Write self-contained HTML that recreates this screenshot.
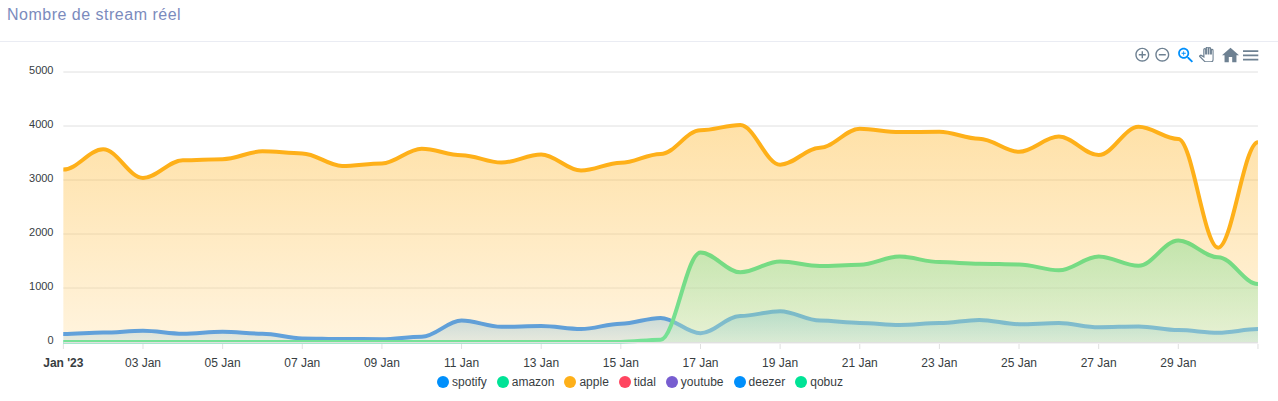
<!DOCTYPE html>
<html><head><meta charset="utf-8"><title>Nombre de stream réel</title>
<style>
html,body{margin:0;padding:0;background:#fff;}
body{width:1278px;height:401px;overflow:hidden;position:relative;font-family:"Liberation Sans",Arial,sans-serif;}
.title{position:absolute;left:7px;top:5px;font-size:16px;line-height:20px;color:#7b8bbd;white-space:nowrap;letter-spacing:0.5px;}
.hr{position:absolute;left:0;top:41px;width:1278px;height:1px;background:#eaecf3;}
.chart{position:absolute;left:0;top:0;}
.yl{font-size:11px;fill:#373d3f;font-family:"Liberation Sans",Arial,sans-serif;}
.xl{font-size:12px;fill:#373d3f;font-family:"Liberation Sans",Arial,sans-serif;}
.legend{position:absolute;left:1px;top:374px;width:1278px;text-align:center;font-size:12px;line-height:16px;color:#373d3f;white-space:nowrap;}
.li{display:inline-block;margin:0 5px;}
.mk{display:inline-block;width:12px;height:12px;border-radius:6px;vertical-align:-2px;margin-right:3px;}
.tb{position:absolute;top:45px;}
</style></head><body>
<div class="title">Nombre de stream réel</div>
<div class="hr"></div>
<svg class="chart" width="1278" height="401" viewBox="0 0 1278 401">
<defs><linearGradient id="g0" x1="0" y1="0" x2="0" y2="1"><stop offset="0" stop-color="#008FFB" stop-opacity="0.38"/><stop offset="1" stop-color="#9ed4fd" stop-opacity="0.38"/></linearGradient><linearGradient id="g1" x1="0" y1="0" x2="0" y2="1"><stop offset="0" stop-color="#00E396" stop-opacity="0.38"/><stop offset="1" stop-color="#9ef4d7" stop-opacity="0.38"/></linearGradient><linearGradient id="g2" x1="0" y1="0" x2="0" y2="1"><stop offset="0" stop-color="#FEB019" stop-opacity="0.38"/><stop offset="1" stop-color="#ffe1a8" stop-opacity="0.38"/></linearGradient><clipPath id="panclip"><rect x="0" y="0" width="24" height="24"/></clipPath><clipPath id="clip"><rect x="61.35" y="60" width="1198.6" height="284"/></clipPath></defs>
<g><line x1="63.35" x2="1257.95" y1="288" y2="288" stroke="#e0e0e0" stroke-width="1"/><line x1="63.35" x2="1257.95" y1="234" y2="234" stroke="#e0e0e0" stroke-width="1"/><line x1="63.35" x2="1257.95" y1="180" y2="180" stroke="#e0e0e0" stroke-width="1"/><line x1="63.35" x2="1257.95" y1="126" y2="126" stroke="#e0e0e0" stroke-width="1"/><line x1="63.35" x2="1257.95" y1="72" y2="72" stroke="#e0e0e0" stroke-width="1"/></g>
<g clip-path="url(#clip)"><path d="M63.35 334C77.29 334 89.23 332.6 103.17 332.6C117.11 332.6 129.05 330.7 142.99 330.7C156.93 330.7 168.87 333.7 182.81 333.7C196.75 333.7 208.69 331.8 222.63 331.8C236.57 331.8 248.51 333.7 262.45 333.7C276.39 333.7 288.33 338.4 302.27 338.4C316.21 338.4 328.15 339 342.09 339C356.03 339 367.97 339.2 381.91 339.2C395.85 339.2 407.79 336.7 421.73 336.7C435.67 336.7 447.61 320.5 461.55 320.5C475.49 320.5 487.43 326.8 501.37 326.8C515.31 326.8 527.25 326 541.19 326C555.13 326 567.07 329 581.01 329C594.95 329 606.89 323.7 620.83 323.7C634.77 323.7 646.71 317.9 660.65 317.9C674.59 317.9 686.53 333.2 700.47 333.2C714.41 333.2 726.35 316 740.29 316C754.23 316 766.17 311.3 780.11 311.3C794.05 311.3 805.99 320.6 819.93 320.6C833.87 320.6 845.81 322.9 859.75 322.9C873.69 322.9 885.63 324.9 899.57 324.9C913.51 324.9 925.45 323.1 939.39 323.1C953.33 323.1 965.27 319.9 979.21 319.9C993.15 319.9 1005.09 324.2 1019.03 324.2C1032.97 324.2 1044.91 323.1 1058.85 323.1C1072.79 323.1 1084.73 327.2 1098.67 327.2C1112.61 327.2 1124.55 326.4 1138.49 326.4C1152.43 326.4 1164.37 330.1 1178.31 330.1C1192.25 330.1 1204.19 332.7 1218.13 332.7C1232.07 332.7 1244.01 329.1 1257.95 329.1L1257.95 342L63.35 342Z" fill="url(#g0)"/><path d="M63.35 334C77.29 334 89.23 332.6 103.17 332.6C117.11 332.6 129.05 330.7 142.99 330.7C156.93 330.7 168.87 333.7 182.81 333.7C196.75 333.7 208.69 331.8 222.63 331.8C236.57 331.8 248.51 333.7 262.45 333.7C276.39 333.7 288.33 338.4 302.27 338.4C316.21 338.4 328.15 339 342.09 339C356.03 339 367.97 339.2 381.91 339.2C395.85 339.2 407.79 336.7 421.73 336.7C435.67 336.7 447.61 320.5 461.55 320.5C475.49 320.5 487.43 326.8 501.37 326.8C515.31 326.8 527.25 326 541.19 326C555.13 326 567.07 329 581.01 329C594.95 329 606.89 323.7 620.83 323.7C634.77 323.7 646.71 317.9 660.65 317.9C674.59 317.9 686.53 333.2 700.47 333.2C714.41 333.2 726.35 316 740.29 316C754.23 316 766.17 311.3 780.11 311.3C794.05 311.3 805.99 320.6 819.93 320.6C833.87 320.6 845.81 322.9 859.75 322.9C873.69 322.9 885.63 324.9 899.57 324.9C913.51 324.9 925.45 323.1 939.39 323.1C953.33 323.1 965.27 319.9 979.21 319.9C993.15 319.9 1005.09 324.2 1019.03 324.2C1032.97 324.2 1044.91 323.1 1058.85 323.1C1072.79 323.1 1084.73 327.2 1098.67 327.2C1112.61 327.2 1124.55 326.4 1138.49 326.4C1152.43 326.4 1164.37 330.1 1178.31 330.1C1192.25 330.1 1204.19 332.7 1218.13 332.7C1232.07 332.7 1244.01 329.1 1257.95 329.1" fill="none" stroke="#007AFC" stroke-width="4"/><path d="M63.35 342C77.29 342 89.23 342 103.17 342C117.11 342 129.05 342 142.99 342C156.93 342 168.87 342 182.81 342C196.75 342 208.69 342 222.63 342C236.57 342 248.51 342 262.45 342C276.39 342 288.33 342 302.27 342C316.21 342 328.15 342 342.09 342C356.03 342 367.97 342 381.91 342C395.85 342 407.79 342 421.73 342C435.67 342 447.61 342 461.55 342C475.49 342 487.43 342 501.37 342C515.31 342 527.25 342 541.19 342C555.13 342 567.07 342 581.01 342C594.95 342 606.89 342 620.83 342C634.77 342 646.71 339.7 660.65 339.7C674.59 339.7 686.53 252.4 700.47 252.4C714.41 252.4 726.35 272.3 740.29 272.3C754.23 272.3 766.17 261.6 780.11 261.6C794.05 261.6 805.99 266 819.93 266C833.87 266 845.81 264.8 859.75 264.8C873.69 264.8 885.63 256.6 899.57 256.6C913.51 256.6 925.45 262.1 939.39 262.1C953.33 262.1 965.27 263.7 979.21 263.7C993.15 263.7 1005.09 264.5 1019.03 264.5C1032.97 264.5 1044.91 270.3 1058.85 270.3C1072.79 270.3 1084.73 256.5 1098.67 256.5C1112.61 256.5 1124.55 265.8 1138.49 265.8C1152.43 265.8 1164.37 240.5 1178.31 240.5C1192.25 240.5 1204.19 257.2 1218.13 257.2C1232.07 257.2 1244.01 284.1 1257.95 284.1L1257.95 342L63.35 342Z" fill="url(#g1)"/><path d="M63.35 342C77.29 342 89.23 342 103.17 342C117.11 342 129.05 342 142.99 342C156.93 342 168.87 342 182.81 342C196.75 342 208.69 342 222.63 342C236.57 342 248.51 342 262.45 342C276.39 342 288.33 342 302.27 342C316.21 342 328.15 342 342.09 342C356.03 342 367.97 342 381.91 342C395.85 342 407.79 342 421.73 342C435.67 342 447.61 342 461.55 342C475.49 342 487.43 342 501.37 342C515.31 342 527.25 342 541.19 342C555.13 342 567.07 342 581.01 342C594.95 342 606.89 342 620.83 342C634.77 342 646.71 339.7 660.65 339.7C674.59 339.7 686.53 252.4 700.47 252.4C714.41 252.4 726.35 272.3 740.29 272.3C754.23 272.3 766.17 261.6 780.11 261.6C794.05 261.6 805.99 266 819.93 266C833.87 266 845.81 264.8 859.75 264.8C873.69 264.8 885.63 256.6 899.57 256.6C913.51 256.6 925.45 262.1 939.39 262.1C953.33 262.1 965.27 263.7 979.21 263.7C993.15 263.7 1005.09 264.5 1019.03 264.5C1032.97 264.5 1044.91 270.3 1058.85 270.3C1072.79 270.3 1084.73 256.5 1098.67 256.5C1112.61 256.5 1124.55 265.8 1138.49 265.8C1152.43 265.8 1164.37 240.5 1178.31 240.5C1192.25 240.5 1204.19 257.2 1218.13 257.2C1232.07 257.2 1244.01 284.1 1257.95 284.1" fill="none" stroke="#22E28C" stroke-width="4"/><path d="M63.35 169.6C77.29 169.6 89.23 149.3 103.17 149.3C117.11 149.3 129.05 177.9 142.99 177.9C156.93 177.9 168.87 160.2 182.81 160.2C196.75 160.2 208.69 159.2 222.63 159.2C236.57 159.2 248.51 151.3 262.45 151.3C276.39 151.3 288.33 153.4 302.27 153.4C316.21 153.4 328.15 165.9 342.09 165.9C356.03 165.9 367.97 163.4 381.91 163.4C395.85 163.4 407.79 148.7 421.73 148.7C435.67 148.7 447.61 155.2 461.55 155.2C475.49 155.2 487.43 162.6 501.37 162.6C515.31 162.6 527.25 154.5 541.19 154.5C555.13 154.5 567.07 170.6 581.01 170.6C594.95 170.6 606.89 162.8 620.83 162.8C634.77 162.8 646.71 154 660.65 154C674.59 154 686.53 130.2 700.47 130.2C714.41 130.2 726.35 125.1 740.29 125.1C754.23 125.1 766.17 164.7 780.11 164.7C794.05 164.7 805.99 147.8 819.93 147.8C833.87 147.8 845.81 128.7 859.75 128.7C873.69 128.7 885.63 132.1 899.57 132.1C913.51 132.1 925.45 131.8 939.39 131.8C953.33 131.8 965.27 138.7 979.21 138.7C993.15 138.7 1005.09 151.8 1019.03 151.8C1032.97 151.8 1044.91 136.6 1058.85 136.6C1072.79 136.6 1084.73 155.1 1098.67 155.1C1112.61 155.1 1124.55 126.8 1138.49 126.8C1152.43 126.8 1164.37 139 1178.31 139C1192.25 139 1204.19 247.7 1218.13 247.7C1232.07 247.7 1244.01 142.2 1257.95 142.2L1257.95 342L63.35 342Z" fill="url(#g2)"/><path d="M63.35 169.6C77.29 169.6 89.23 149.3 103.17 149.3C117.11 149.3 129.05 177.9 142.99 177.9C156.93 177.9 168.87 160.2 182.81 160.2C196.75 160.2 208.69 159.2 222.63 159.2C236.57 159.2 248.51 151.3 262.45 151.3C276.39 151.3 288.33 153.4 302.27 153.4C316.21 153.4 328.15 165.9 342.09 165.9C356.03 165.9 367.97 163.4 381.91 163.4C395.85 163.4 407.79 148.7 421.73 148.7C435.67 148.7 447.61 155.2 461.55 155.2C475.49 155.2 487.43 162.6 501.37 162.6C515.31 162.6 527.25 154.5 541.19 154.5C555.13 154.5 567.07 170.6 581.01 170.6C594.95 170.6 606.89 162.8 620.83 162.8C634.77 162.8 646.71 154 660.65 154C674.59 154 686.53 130.2 700.47 130.2C714.41 130.2 726.35 125.1 740.29 125.1C754.23 125.1 766.17 164.7 780.11 164.7C794.05 164.7 805.99 147.8 819.93 147.8C833.87 147.8 845.81 128.7 859.75 128.7C873.69 128.7 885.63 132.1 899.57 132.1C913.51 132.1 925.45 131.8 939.39 131.8C953.33 131.8 965.27 138.7 979.21 138.7C993.15 138.7 1005.09 151.8 1019.03 151.8C1032.97 151.8 1044.91 136.6 1058.85 136.6C1072.79 136.6 1084.73 155.1 1098.67 155.1C1112.61 155.1 1124.55 126.8 1138.49 126.8C1152.43 126.8 1164.37 139 1178.31 139C1192.25 139 1204.19 247.7 1218.13 247.7C1232.07 247.7 1244.01 142.2 1257.95 142.2" fill="none" stroke="#FEB019" stroke-width="4"/></g>
<g><rect x="63.35" y="342" width="1194.6" height="1" fill="#e0e0e0"/><rect x="63.35" y="343" width="1194.6" height="1" fill="#ebebeb" fill-opacity="0.65"/><line x1="63.35" x2="63.35" y1="344" y2="349" stroke="#e0e0e0" stroke-width="1"/><line x1="142.99" x2="142.99" y1="344" y2="349" stroke="#e0e0e0" stroke-width="1"/><line x1="222.63" x2="222.63" y1="344" y2="349" stroke="#e0e0e0" stroke-width="1"/><line x1="302.27" x2="302.27" y1="344" y2="349" stroke="#e0e0e0" stroke-width="1"/><line x1="381.91" x2="381.91" y1="344" y2="349" stroke="#e0e0e0" stroke-width="1"/><line x1="461.55" x2="461.55" y1="344" y2="349" stroke="#e0e0e0" stroke-width="1"/><line x1="541.19" x2="541.19" y1="344" y2="349" stroke="#e0e0e0" stroke-width="1"/><line x1="620.83" x2="620.83" y1="344" y2="349" stroke="#e0e0e0" stroke-width="1"/><line x1="700.47" x2="700.47" y1="344" y2="349" stroke="#e0e0e0" stroke-width="1"/><line x1="780.11" x2="780.11" y1="344" y2="349" stroke="#e0e0e0" stroke-width="1"/><line x1="859.75" x2="859.75" y1="344" y2="349" stroke="#e0e0e0" stroke-width="1"/><line x1="939.39" x2="939.39" y1="344" y2="349" stroke="#e0e0e0" stroke-width="1"/><line x1="1019.03" x2="1019.03" y1="344" y2="349" stroke="#e0e0e0" stroke-width="1"/><line x1="1098.67" x2="1098.67" y1="344" y2="349" stroke="#e0e0e0" stroke-width="1"/><line x1="1178.31" x2="1178.31" y1="344" y2="349" stroke="#e0e0e0" stroke-width="1"/><line x1="1257.95" x2="1257.95" y1="344" y2="349" stroke="#e0e0e0" stroke-width="1"/></g>
<g><text x="53.5" y="344" text-anchor="end" class="yl">0</text><text x="53.5" y="290" text-anchor="end" class="yl">1000</text><text x="53.5" y="236" text-anchor="end" class="yl">2000</text><text x="53.5" y="182" text-anchor="end" class="yl">3000</text><text x="53.5" y="128" text-anchor="end" class="yl">4000</text><text x="53.5" y="74" text-anchor="end" class="yl">5000</text></g>
<g><text x="63.35" y="366.5" text-anchor="middle" class="xl" font-weight="bold">Jan '23</text><text x="142.99" y="366.5" text-anchor="middle" class="xl">03 Jan</text><text x="222.63" y="366.5" text-anchor="middle" class="xl">05 Jan</text><text x="302.27" y="366.5" text-anchor="middle" class="xl">07 Jan</text><text x="381.91" y="366.5" text-anchor="middle" class="xl">09 Jan</text><text x="461.55" y="366.5" text-anchor="middle" class="xl">11 Jan</text><text x="541.19" y="366.5" text-anchor="middle" class="xl">13 Jan</text><text x="620.83" y="366.5" text-anchor="middle" class="xl">15 Jan</text><text x="700.47" y="366.5" text-anchor="middle" class="xl">17 Jan</text><text x="780.11" y="366.5" text-anchor="middle" class="xl">19 Jan</text><text x="859.75" y="366.5" text-anchor="middle" class="xl">21 Jan</text><text x="939.39" y="366.5" text-anchor="middle" class="xl">23 Jan</text><text x="1019.03" y="366.5" text-anchor="middle" class="xl">25 Jan</text><text x="1098.67" y="366.5" text-anchor="middle" class="xl">27 Jan</text><text x="1178.31" y="366.5" text-anchor="middle" class="xl">29 Jan</text></g>
<g><g transform="translate(1133.9 46.3) scale(0.7)" fill="#6E8192"><path d="M13 7h-2v4H7v2h4v4h2v-4h4v-2h-4V7zm-1-5C6.48 2 2 6.48 2 12s4.48 10 10 10 10-4.48 10-10S17.52 2 12 2zm0 18c-4.41 0-8-3.590-8-8s3.59-8 8-8 8 3.59 8 8-3.59 8-8 8z"/></g><g transform="translate(1153.9 46.3) scale(0.7)" fill="#6E8192"><path d="M7 11v2h10v-2H7zm5-9C6.48 2 2 6.48 2 12s4.48 10 10 10 10-4.48 10-10S17.52 2 12 2zm0 18c-4.41 0-8-3.59-8-8s3.59-8 8-8 8 3.59 8 8-3.59 8-8 8z"/></g><g transform="translate(1175.6 45.2) scale(0.85)" fill="#008FFB"><path d="M15.5 14h-.79l-.28-.27C15.41 12.59 16 11.11 16 9.5 16 5.910 13.09 3 9.5 3S3 5.91 3 9.5 5.91 16 9.5 16c1.61 0 3.09-.59 4.23-1.57l.27.28v.79l5 4.99L20.49 19l-4.99-5zm-6 0C7.01 14 5 11.99 5 9.5S7.01 5 9.5 5 14 7.01 14 9.5 11.99 14 9.5 14z"/><path d="M12 10h-2v2H9v-2H7V9h2V7h1v2h2v1z"/></g><g transform="translate(1198.9 47) scale(0.62)" clip-path="url(#panclip)"><path fill="#fff" stroke="#6E8192" stroke-width="2" d="M23 5.5V20c0 2.2-1.8 4-4 4h-7.3c-1.08 0-2.1-.43-2.850-1.19L1 14.83s1.26-1.23 1.3-1.25c.22-.19.49-.29.79-.29.22 0 .42.06.6.16.04.01 4.31 2.46 4.31 2.46V4c0-.83.67-1.5 1.5-1.5S11 3.17 11 4v7h1V1.5c0-.83.67-1.5 1.5-1.5S15 .67 15 1.5V11h1V2.5c0-.83.67-1.5 1.5-1.5s1.5.67 1.5 1.5V11h1V5.5c0-.83.67-1.5 1.5-1.5s1.5.67 1.5 1.5z"/></g><g transform="translate(1220.3 45.15) scale(0.85)" fill="#6E8192"><path d="M10 20v-6h4v6h5v-8h3L12 3 2 12h3v8z"/></g><g transform="translate(1240.45 45.1) scale(0.85)" fill="#6E8192"><path d="M3 18h18v-2H3v2zm0-5h18v-2H3v2zm0-7v2h18V6H3z"/></g></g>
</svg>
<div class="legend"><span class="li"><span class="mk" style="background:#008FFB"></span><span class="lt">spotify</span></span><span class="li"><span class="mk" style="background:#00E396"></span><span class="lt">amazon</span></span><span class="li"><span class="mk" style="background:#FEB019"></span><span class="lt">apple</span></span><span class="li"><span class="mk" style="background:#FF4560"></span><span class="lt">tidal</span></span><span class="li"><span class="mk" style="background:#775DD0"></span><span class="lt">youtube</span></span><span class="li"><span class="mk" style="background:#008FFB"></span><span class="lt">deezer</span></span><span class="li"><span class="mk" style="background:#00E396"></span><span class="lt">qobuz</span></span></div>
</body></html>
